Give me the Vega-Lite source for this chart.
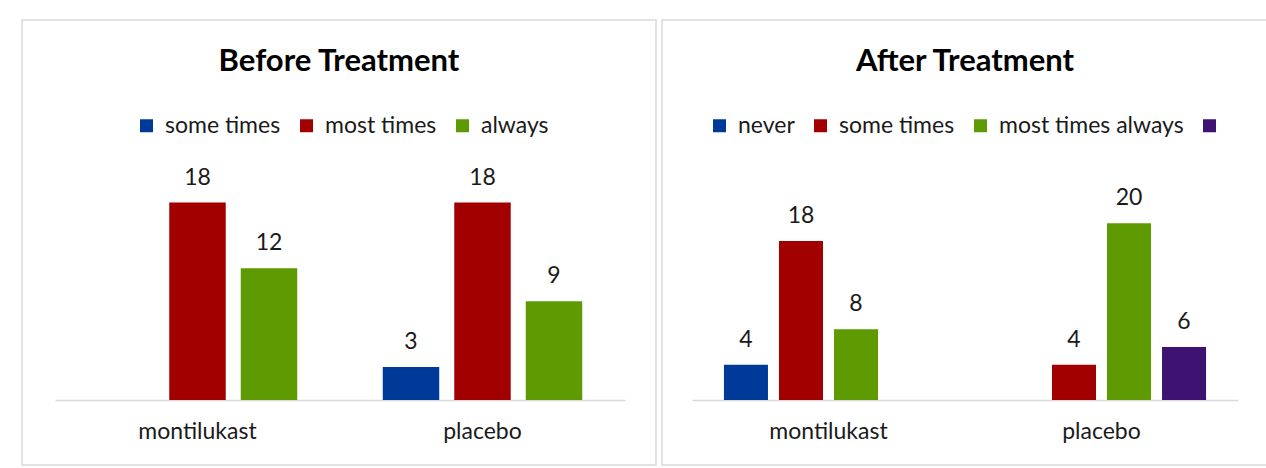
{
  "$schema": "https://vega.github.io/schema/vega-lite/v6.json",
  "padding": {"left": 21, "top": 19, "right": 0, "bottom": 0},
  "background": "white",
  "spacing": 4,
  "config": {
    "font": "Lato",
    "view": {"stroke": "#d9d9d9", "strokeWidth": 1.5},
    "title": {"font": "Lato", "fontSize": 31, "fontWeight": "bold", "color": "#000000", "frame": "group", "anchor": "middle", "baseline": "middle"},
    "legend": {"padding": 0, "labelFont": "Lato", "labelFontSize": 23, "labelColor": "#1a1a1a", "labelLimit": 500, "symbolType": "square", "symbolSize": 169, "symbolStrokeWidth": 0, "labelOffset": 7, "columnPadding": 14, "title": null},
    "axis": {"labelFont": "Lato", "labelFontSize": 23, "labelColor": "#1a1a1a", "ticks": false, "tickSize": 0, "grid": false, "title": null}
  },
  "hconcat": [
    {
      "width": 634,
      "height": 445,
      "title": {"text": "Before Treatment", "offset": -58},
      "data": {"values": [
        {"group": "montilukast", "response": "most times", "count": 18},
        {"group": "montilukast", "response": "always", "count": 12},
        {"group": "placebo", "response": "some times", "count": 3},
        {"group": "placebo", "response": "most times", "count": 18},
        {"group": "placebo", "response": "always", "count": 9}
      ]},
      "encoding": {
        "x": {"field": "group", "type": "nominal", "scale": {"range": [33, 603], "paddingInner": 0.3, "paddingOuter": 0.15},
              "axis": {"labelAngle": 0, "domainColor": "#d9d9d9", "domainWidth": 1.5, "offset": -65, "labelPadding": 20}},
        "xOffset": {"field": "response", "type": "nominal", "scale": {"domain": ["some times", "most times", "always"], "paddingInner": 0.21, "paddingOuter": 0}},
        "y": {"field": "count", "type": "quantitative", "scale": {"domain": [-5.925, 34.64], "nice": false, "zero": false}, "axis": null}
      },
      "layer": [
        {
          "mark": {"type": "bar"},
          "encoding": {
            "y2": {"datum": 0},
            "color": {"field": "response", "type": "nominal",
                      "scale": {"domain": ["some times", "most times", "always"], "range": ["#003a99", "#a20000", "#5e9a02"]},
                      "legend": {"orient": "none", "direction": "horizontal", "legendX": 113, "legendY": 94}}
          }
        },
        {
          "mark": {"type": "text", "baseline": "alphabetic", "dy": -18, "fontSize": 23, "color": "#1a1a1a", "font": "Lato"},
          "encoding": {"text": {"field": "count", "type": "quantitative"}}
        }
      ]
    },
    {
      "width": 606,
      "height": 445,
      "title": {"text": "After Treatment", "offset": -58},
      "data": {"values": [
        {"group": "montilukast", "response": "never", "count": 4},
        {"group": "montilukast", "response": "some times", "count": 18},
        {"group": "montilukast", "response": "most times", "count": 8},
        {"group": "placebo", "response": "some times", "count": 4},
        {"group": "placebo", "response": "most times", "count": 20},
        {"group": "placebo", "response": "always", "count": 6}
      ]},
      "encoding": {
        "x": {"field": "group", "type": "nominal", "scale": {"range": [30, 576], "paddingInner": 0.234, "paddingOuter": 0.117},
              "axis": {"labelAngle": 0, "domainColor": "#d9d9d9", "domainWidth": 1.5, "offset": -65, "labelPadding": 20}},
        "xOffset": {"field": "response", "type": "nominal", "scale": {"domain": ["never", "some times", "most times", "always"], "paddingInner": 0.2, "paddingOuter": 0}},
        "y": {"field": "count", "type": "quantitative", "scale": {"domain": [-7.353, 42.99], "nice": false, "zero": false}, "axis": null}
      },
      "layer": [
        {
          "mark": {"type": "bar"},
          "encoding": {
            "y2": {"datum": 0},
            "color": {"field": "response", "type": "nominal",
                      "scale": {"domain": ["never", "some times", "most times", "always"], "range": ["#003a99", "#a20000", "#5e9a02", "#3d1272"]},
                      "legend": {"orient": "none", "direction": "horizontal", "legendX": 46, "legendY": 94,
                                 "labelExpr": "datum.label == 'most times' ? 'most times always' : (datum.label == 'always' ? '' : datum.label)"}}
          }
        },
        {
          "mark": {"type": "text", "baseline": "alphabetic", "dy": -18, "fontSize": 23, "color": "#1a1a1a", "font": "Lato"},
          "encoding": {"text": {"field": "count", "type": "quantitative"}}
        }
      ]
    }
  ],
  "resolve": {"scale": {"color": "independent", "x": "independent", "y": "independent", "xOffset": "independent"}, "legend": {"color": "independent"}}
}
